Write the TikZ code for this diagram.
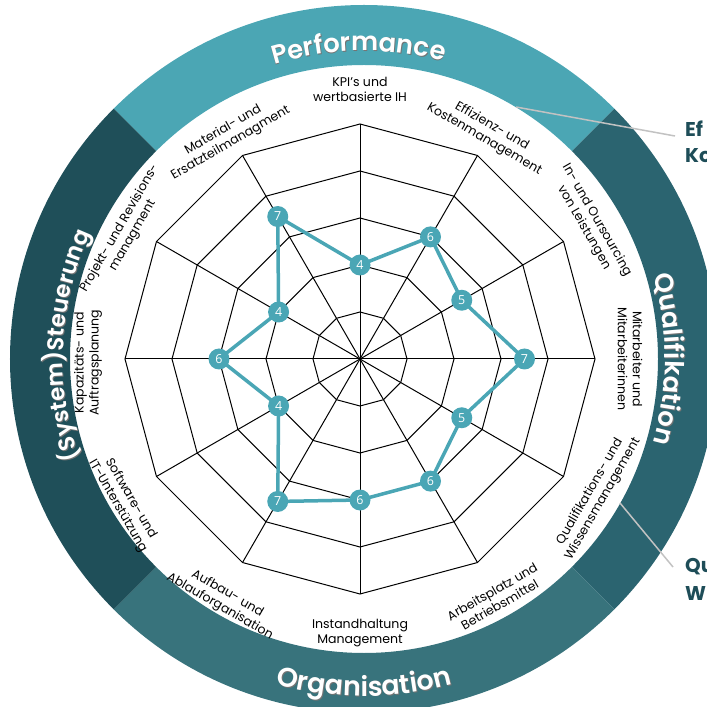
\documentclass[tikz,border=0pt]{standalone}
\usepackage{fontspec}
\setmainfont{Poppins}
\IfFontExistsTF{Poppins SemiBold}{\newfontfamily\ringfont{Poppins SemiBold}}{\newfontfamily\ringfont{Poppins}[FakeBold=1]}
\newfontfamily\numfont{Open Sans}
\usetikzlibrary{decorations.text}
\definecolor{perfcol}{HTML}{4BA6B4}
\definecolor{qualcol}{HTML}{2B6470}
\definecolor{orgacol}{HTML}{38737C}
\definecolor{steucol}{HTML}{1F4F59}
\definecolor{datacol}{HTML}{4AA6B5}
\definecolor{caltext}{HTML}{1E4D58}
\definecolor{calgrey}{HTML}{C2C2C2}
\newcommand\lblfont{\fontsize{12.6}{15}\selectfont}
\newcommand\arctext[5]{%
  \path[decorate,decoration={text along path,text align=center,
    text={|\ringfont\fontsize{#5}{#5}\selectfont\color{black!55}|#1}}]
    ([shift={(0.8,-0.8)}]#3:#2) arc[start angle=#3,end angle=#4,radius=#2];
  \path[decorate,decoration={text along path,text align=center,
    text={|\ringfont\fontsize{#5}{#5}\selectfont\color{white}|#1}}]
    (#3:#2) arc[start angle=#3,end angle=#4,radius=#2];
}
\begin{document}
\begin{tikzpicture}[x=1bp,y=1bp,
  lbl/.style={align=center, font=\lblfont, inner sep=0pt},
  gridline/.style={black, line width=1bp},
  dataline/.style={datacol, line width=3.5bp, line join=round},
  marker/.style={circle, fill=datacol, minimum size=21bp, inner sep=0pt,
    text=white, font=\numfont\fontsize{12.5}{12.5}\selectfont},
  calloutline/.style={draw=calgrey, line width=1.5bp},
  callouttext/.style={anchor=base west, inner sep=0pt, text=caltext,
    font=\bfseries\fontsize{20}{20}\selectfont},
]
\useasboundingbox (-360,-348) rectangle (347,359);
\clip (-360,-348) rectangle (347,359);
% ring
\begin{scope}[shift={(4,0)}]
\fill[perfcol] (45:354) arc[start angle=45,end angle=135,radius=354] -- (135:294) arc[start angle=135,end angle=45,radius=294] -- cycle;
\fill[qualcol] (-45:354) arc[start angle=-45,end angle=45,radius=354] -- (45:294) arc[start angle=45,end angle=-45,radius=294] -- cycle;
\fill[orgacol] (-135:354) arc[start angle=-135,end angle=-45,radius=354] -- (-45:294) arc[start angle=-45,end angle=-135,radius=294] -- cycle;
\fill[steucol] (135:354) arc[start angle=135,end angle=225,radius=354] -- (225:294) arc[start angle=225,end angle=135,radius=294] -- cycle;
\arctext{Performance}{308}{136}{46}{26}
\arctext{Qualifikation}{301}{45}{-45}{26}
\arctext{Organisation}{337}{-135}{-45}{27}
\arctext{(System)Steuerung}{301}{222.4}{132.4}{23}
\end{scope}
% grid
\foreach \k in {1,...,5}{
  \draw[gridline] (0:{47*\k}) \foreach \a in {30,60,...,330}{ -- (\a:{47*\k})} -- cycle;
}
\foreach \a in {0,30,...,330}{\draw[gridline] (0,0) -- (\a:235);}
% labels
\node[lbl] (l1) at (90:270) {KPI's und\\wertbasierte IH};
\node[lbl,rotate=-30] (l2) at (60.5:260) {Effizienz- und\\Kostenmanagement};
\node[lbl,rotate=-60] (l3) at (30.4:267) {In- und Oursourcing\\von Leistungen};
\node[lbl,rotate=-90] (l4) at (0:270) {Mitarbeiter und\\Mitarbeiterinnen};
\node[lbl,rotate=60] (l5) at (-30:273) {Qualifikations- und\\Wissensmanagement};
\node[lbl,rotate=30] (l6) at (-60.4:275) {Arbeitsplatz und\\Betriebsmittel};
\node[lbl] (l7) at (-90:274) {Instandhaltung\\Management};
\node[lbl,rotate=-30] (l8) at (-119.5:277) {Aufbau- und\\Ablauforganisation};
\node[lbl,rotate=-60] (l9) at (-148.7:276) {Software- und\\IT-Unterstützung};
\node[lbl,rotate=90] (l10) at (180.8:272) {Kapazitäts- und\\Auftragsplanung};
\node[lbl,rotate=60] (l11) at (151.5:266) {Projekt- und Revisions-\\managment};
\node[lbl,rotate=30] (l12) at (120.9:259) {Material- und\\Ersatzteilmanagment};
% data
\coordinate (d1) at (90:94);
\coordinate (d2) at (60:141);
\coordinate (d3) at (30:117.5);
\coordinate (d4) at (0:164.5);
\coordinate (d5) at (-30:117.5);
\coordinate (d6) at (-60:141);
\coordinate (d7) at (-90:141);
\coordinate (d8) at (-120:164.5);
\coordinate (d9) at (-150:94);
\coordinate (d10) at (180:141);
\coordinate (d11) at (150:94);
\coordinate (d12) at (120:164.5);
\draw[dataline] (d1) -- (d2) -- (d3) -- (d4) -- (d5) -- (d6) -- (d7) -- (d8) -- (d9) -- (d10) -- (d11) -- (d12) -- cycle;
\node[marker] (n1) at (d1) {4};
\node[marker] (n2) at (d2) {6};
\node[marker] (n3) at (d3) {5};
\node[marker] (n4) at (d4) {7};
\node[marker] (n5) at (d5) {5};
\node[marker] (n6) at (d6) {6};
\node[marker] (n7) at (d7) {6};
\node[marker] (n8) at (d8) {7};
\node[marker] (n9) at (d9) {4};
\node[marker] (n10) at (d10) {6};
\node[marker] (n11) at (d11) {4};
\node[marker] (n12) at (d12) {7};
% callouts
\coordinate (e1) at (156,252);
\coordinate (e2) at (315,223);
\draw[calloutline] (e1) -- (e2);
\node[callouttext] (t1) at (325,222) {Ef};
\node[callouttext] (t2) at (325,196) {Ko};
\coordinate (q1) at (260,-144);
\coordinate (q2) at (313,-208);
\draw[calloutline] (q1) -- (q2);
\node[callouttext] (t3) at (325,-213) {Qu};
\node[callouttext] (t4) at (325,-241) {W};
\end{tikzpicture}
\end{document}
